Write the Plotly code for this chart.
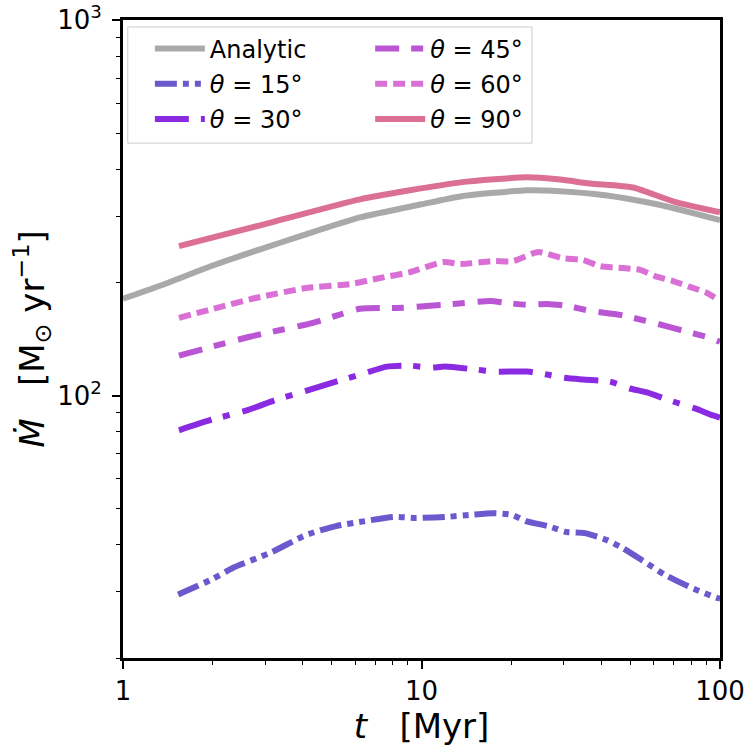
import plotly.graph_objects as go
import numpy as np

# ---------------- data ----------------
t_analytic = [1.0, 1.33, 2.0, 2.88, 4.0, 6.22, 10.0, 13.5, 22.6, 29.1, 41.8, 61.5, 80.0, 100.0]
mdot_analytic = [181, 196, 222, 245, 267, 298, 323, 339, 352, 350, 341, 323, 307, 293]

t_15 = [1.53, 1.97, 2.34, 3.11, 4.10, 5.17, 6.47, 8.09, 9.58, 12.1, 14.6, 17.4, 20.1, 22.4,
        26.5, 30.7, 35.3, 41.8, 47.0, 55.2, 65.4, 80.0, 97.7, 100.0]
mdot_15 = [29.5, 32.3, 34.8, 38.1, 42.5, 44.9, 46.3, 47.5, 47.2, 47.5, 48.1, 48.6, 48.1, 46.3,
           44.9, 43.3, 43.0, 41.2, 39.3, 36.3, 33.3, 30.8, 28.9, 28.8]

t_30 = [1.54, 2.0, 2.60, 3.28, 4.23, 5.46, 6.22, 7.66, 9.15, 10.7, 12.0, 15.3, 17.6, 22.6,
        26.3, 29.8, 34.8, 42.8, 49.9, 56.9, 69.6, 82.5, 94.7, 100.0]
mdot_30 = [80.8, 86.4, 91.3, 97.6, 103.7, 110.3, 113.7, 119.4, 120.1, 118.6, 119.4, 117.2, 115.8, 115.8,
           113.7, 111.6, 110.3, 108.9, 104.4, 101.9, 96.4, 92.4, 88.5, 87.4]

t_45 = [1.54, 2.66, 4.33, 5.42, 6.22, 8.67, 11.5, 14.2, 17.0, 19.3, 22.6, 26.3, 30.7, 36.7,
        46.2, 58.3, 73.5, 94.7, 100.0]
mdot_45 = [127.7, 143.4, 156.2, 165.0, 170.2, 171.2, 174.3, 176.5, 178.6, 176.5, 174.3, 175.4, 173.3, 168.1,
           164.0, 157.1, 149.6, 141.6, 139.0]

t_60 = [1.54, 2.11, 2.88, 4.13, 5.76, 7.26, 9.15, 11.8, 13.5, 17.4, 20.3, 24.6, 29.8, 34.8,
        39.6, 47.3, 54.0, 60.6, 69.6, 79.3, 90.5, 100.0]
mdot_60 = [161, 172, 183, 193.4, 198, 205.6, 213, 226.7, 224, 228, 228, 241, 232, 229.5,
           221, 218.5, 216, 208, 201.8, 194.6, 187.6, 178.6]

t_90 = [1.54, 2.88, 6.22, 9.15, 13.5, 22.6, 29.1, 36.7, 51.1, 69.6, 100.0]
mdot_90 = [250, 284, 333, 352, 369.5, 381, 376, 367, 358, 329, 307.5]

x_ticks = [1, 10, 100]
x_ticktext = ["1", "10", "100"]
y_ticks = [100, 1000]
y_ticktext = ["10<sup>2</sup>", "10<sup>3</sup>"]

# ---------------- figure ----------------
FONT = "DejaVu Sans"
LW = 6
NB = "\u00a0"

series = [
    # name, t, mdot, color, dash, legend
    ("Analytic", t_analytic, mdot_analytic, "#A9A9A9", "solid", "legend"),
    ("<i>θ</i> = 15°", t_15, mdot_15, "#6A5ACD", "22px,6px,6px,6px,6px,6px", "legend"),
    ("<i>θ</i> = 30°", t_30, mdot_30, "#8A2BE2", "34px,12px,7px,13px", "legend"),
    ("<i>θ</i> = 45°", t_45, mdot_45, "#BA55D3", "24px,12px,12px,13px", "legend2"),
    ("<i>θ</i> = 60°", t_60, mdot_60, "#DA70D6", "12px,6px", "legend2"),
    ("<i>θ</i> = 90°", t_90, mdot_90, "#DB7093", "solid", "legend2"),
]

fig = go.Figure()
for i, (name, t, m, col, dash, lg) in enumerate(series):
    fig.add_trace(go.Scatter(
        x=t, y=m, mode="lines", name=name,
        line=dict(color=col, width=LW, dash=dash, shape="spline", smoothing=0.6),
        legend=lg, legendgroup=str(i),
    ))

leg_common = dict(
    bgcolor="rgba(0,0,0,0)", borderwidth=0,
    font=dict(family=FONT, size=24, color="black"),
    yanchor="top", xanchor="left",
    traceorder="grouped", tracegroupgap=1, itemwidth=50,
)

fig.update_layout(
    width=750, height=750,
    margin=dict(l=123, r=30, t=20, b=92, autoexpand=False),
    paper_bgcolor="white", plot_bgcolor="white",
    font=dict(family=FONT, color="black"),
    showlegend=True,
    legend=dict(x=0.045, y=0.99, **leg_common),
    legend2=dict(x=0.414, y=0.99, **leg_common),
    shapes=[dict(
        type="rect", xref="paper", yref="paper",
        x0=0.008, x1=0.685, y0=0.807, y1=0.989,
        line=dict(color="#CCCCCC", width=1),
        fillcolor="rgba(255,255,255,0.8)", layer="above",
    )],
)

fig.update_xaxes(
    type="log", range=[0, 2], automargin=False,
    tickmode="array", tickvals=x_ticks, ticktext=x_ticktext,
    ticks="outside", ticklen=8, tickwidth=1.5, tickcolor="black",
    minor=dict(ticks="outside", ticklen=4, tickwidth=1, tickcolor="black",
               tickvals=[2, 3, 4, 5, 6, 7, 8, 9, 20, 30, 40, 50, 60, 70, 80, 90]),
    tickfont=dict(size=26, family=FONT),
    showgrid=False, zeroline=False,
    showline=True, linewidth=3, linecolor="black", mirror=True,
    title=dict(text="<i>t</i>" + NB * 3 + "[Myr]", font=dict(size=34, family=FONT), standoff=2),
)
fig.update_yaxes(
    type="log", range=[np.log10(20), 3], automargin=False,
    tickmode="array", tickvals=y_ticks, ticktext=y_ticktext,
    ticks="outside", ticklen=8, tickwidth=1.5, tickcolor="black",
    ticklabelstandoff=5,
    minor=dict(ticks="outside", ticklen=4, tickwidth=1, tickcolor="black",
               tickvals=[20, 30, 40, 50, 60, 70, 80, 90, 200, 300, 400, 500, 600, 700, 800, 900]),
    tickfont=dict(size=26, family=FONT),
    showgrid=False, zeroline=False,
    showline=True, linewidth=3, linecolor="black", mirror=True,
    title=dict(text="<i>Ṁ</i>" + NB * 3 + "[M<sub>⊙</sub>" + NB + "yr<sup>−1</sup>]",
               font=dict(size=34, family=FONT), standoff=3),
)

fig.write_html("out.html")
